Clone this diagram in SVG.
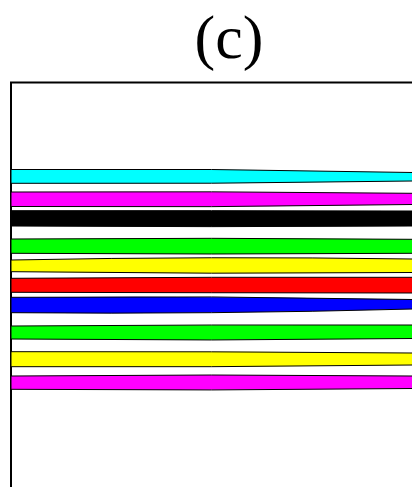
<svg xmlns="http://www.w3.org/2000/svg" width="412" height="487" viewBox="0 0 412 487">
<style>
.band{stroke:#000;stroke-width:1;}
.frame{fill:none;stroke:#000;stroke-width:2;}
</style>
<rect width="412" height="487" fill="#fff"/>
<text x="229" y="58" text-anchor="middle" font-family="Liberation Serif, DejaVu Serif, serif" font-size="62" fill="#000">(c)</text>
<g id="frame">
<path class="frame" d="M11,490 L11,82.5 L415,82.5"/>
</g>
<g id="bands">
<path id="band1" class="band" fill="#00FFFF" d="M11,169.5 Q211,168 413,172.5 L413,181 Q211,184.3 11,183.3 Z"/>
<path id="band2" class="band" fill="#FF00FF" d="M11,192 Q211,191 413,193.3 L413,204.5 Q211,207.8 11,206.5 Z"/>
<path id="band3" class="band" fill="#000000" d="M11,210.7 Q211,210.5 413,211 L413,226 Q211,227.3 11,226 Z"/>
<path id="band4" class="band" fill="#00FF00" d="M11,239 Q211,237.5 413,239.3 L413,253.3 Q211,254.7 11,253.3 Z"/>
<path id="band5" class="band" fill="#FFFF00" d="M11,260 Q211,256 413,259 L413,272.5 Q211,274.3 11,271.7 Z"/>
<path id="band6" class="band" fill="#FF0000" d="M11,278.3 Q211,276.8 413,277.3 L413,293 Q211,292.8 11,292.3 Z"/>
<path id="band7" class="band" fill="#0000FF" d="M11,297.3 Q211,295.5 413,299.5 L413,309 Q211,314.5 11,312.7 Z"/>
<path id="band8" class="band" fill="#00FF00" d="M11,326 Q211,324.5 413,325 L413,338.5 Q211,341.2 11,339 Z"/>
<path id="band9" class="band" fill="#FFFF00" d="M11,351.7 Q211,351.3 413,353 L413,365 Q211,367.5 11,366.7 Z"/>
<path id="band10" class="band" fill="#FF00FF" d="M11,376 Q211,374 413,376 L413,388.5 Q211,391 11,389.3 Z"/>
</g>
</svg>
